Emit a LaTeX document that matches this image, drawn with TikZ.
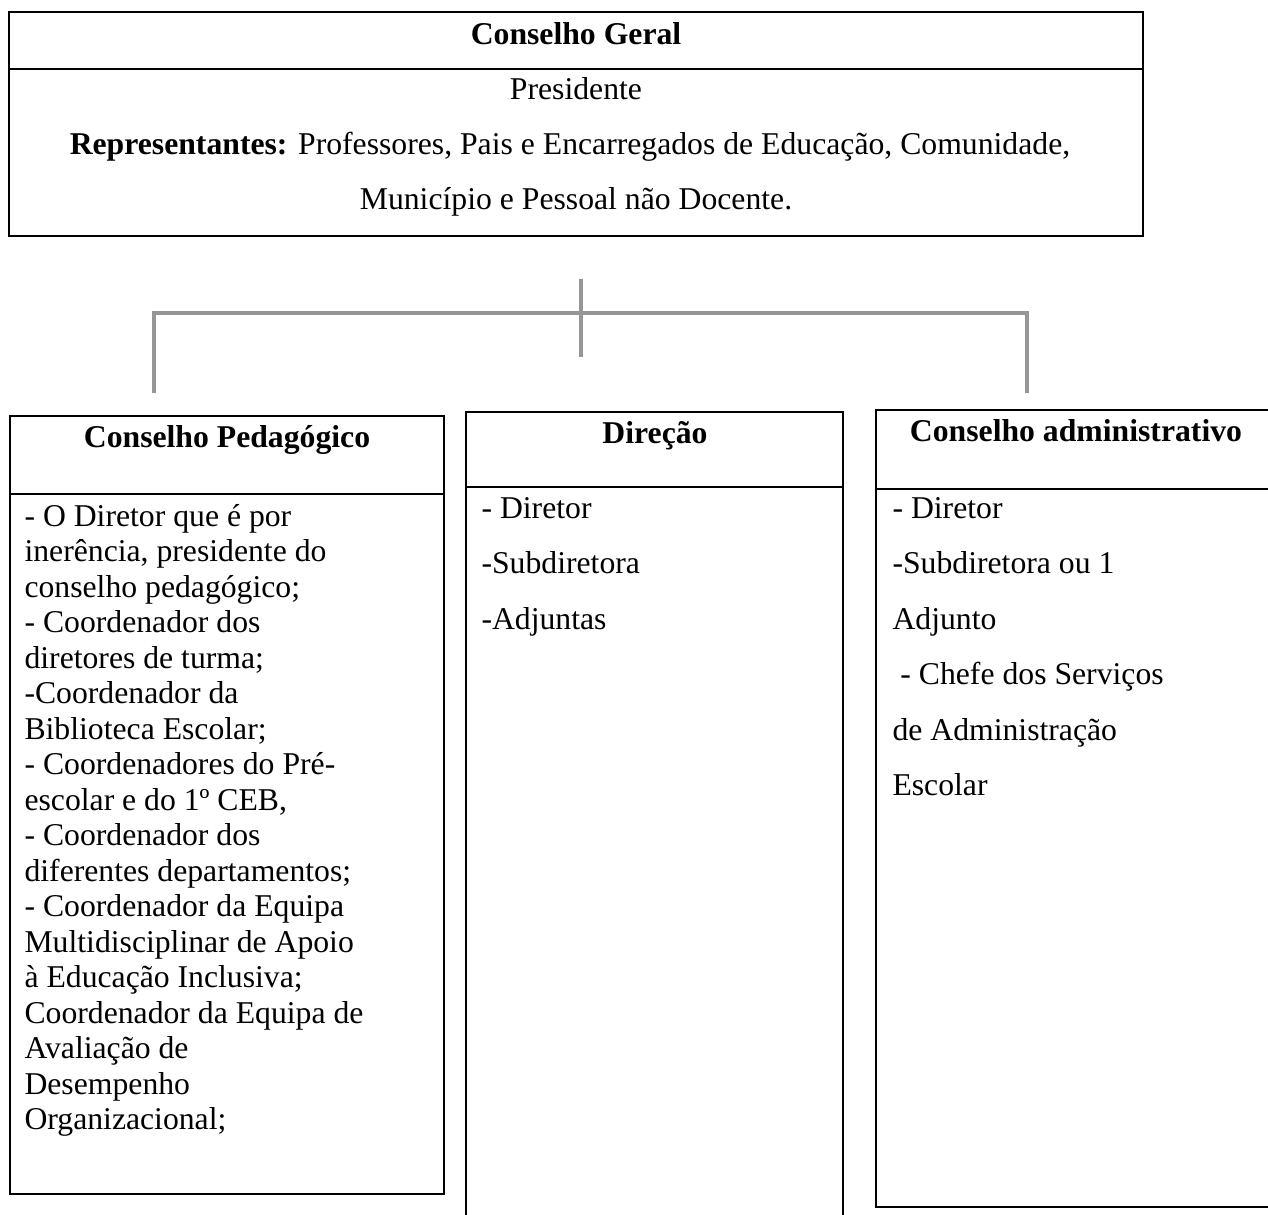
\documentclass[tikz,border=0pt]{standalone}
\usepackage{fontspec}
\setmainfont{Liberation Serif}
\usepackage{xcolor}
\definecolor{cinza}{RGB}{150,150,150}

\tikzset{
  caixa/.style={draw=black, line width=1pt},
  ligacao/.style={draw=cinza, line width=1.5pt},
  titulo/.style={font=\bfseries, anchor=base, inner sep=0pt},
  centro/.style={anchor=base, inner sep=0pt},
  linha/.style={anchor=base west, inner sep=0pt},
}

\begin{document}
\fontsize{12}{13.8}\selectfont
\begin{tikzpicture}[x=0.3785pt, y=-0.3785pt]
\clip (0,0) rectangle (1268,1214);

% conselho geral
\draw[caixa] (9,12) rectangle (1143,236);
\draw[caixa] (9,69) -- (1143,69);
\node[titulo] (geral) at (576,44) {Conselho Geral};
\node[centro] (presid) at (576,99) {Presidente};
\node[centro] (repr) at (570,154) {\textbf{Representantes:} Professores, Pais e Encarregados de Educação, Comunidade,};
\node[centro] (munic) at (576,209) {Município e Pessoal não Docente.};

% ligacoes
\coordinate (topo) at (581,279);
\coordinate (meio) at (581,357);
\coordinate (barra) at (581,313);
\coordinate (esq) at (154,393);
\coordinate (dir) at (1027,393);
\draw[ligacao] (topo) -- (meio);
\draw[ligacao] (esq) -- (esq |- barra) -- (dir |- barra) -- (dir);

% conselho pedagogico
\draw[caixa] (10,416) rectangle (444,1194);
\draw[caixa] (10,494) -- (444,494);
\node[titulo] (ped) at (227,447) {Conselho Pedagógico};
\foreach \t [count=\i from 0] in {- O Diretor que é por, {inerência, presidente do},
  conselho pedagógico;, - Coordenador dos, diretores de turma;, -Coordenador da,
  Biblioteca Escolar;, - Coordenadores do Pré-, {escolar e do 1º CEB,},
  - Coordenador dos, diferentes departamentos;, - Coordenador da Equipa,
  Multidisciplinar de Apoio, à Educação Inclusiva;, Coordenador da Equipa de,
  Avaliação de, Desempenho, Organizacional;}
  \node[linha] (ped-\i) at (24,{526+35.5*\i}) {\t};

% direcao
\draw[caixa] (466,412) rectangle (843,1240);
\draw[caixa] (466,487) -- (843,487);
\node[titulo] (dir-t) at (655,443) {Direção};
\foreach \t [count=\i from 0] in {- Diretor, -Subdiretora, -Adjuntas}
  \node[linha] (dir-\i) at (481,{518+55.5*\i}) {\t};

% conselho administrativo
\draw[caixa] (876,410) rectangle (1290,1207);
\draw[caixa] (876,489) -- (1290,489);
\node[titulo] (adm) at (1076,441) {Conselho administrativo};
\foreach \t [count=\i from 0] in {- Diretor, -Subdiretora ou 1, Adjunto,
  {\hspace{3pt}- Chefe dos Serviços}, de Administração, Escolar}
  \node[linha] (adm-\i) at (892,{518+55.5*\i}) {\t};

\end{tikzpicture}
\end{document}
